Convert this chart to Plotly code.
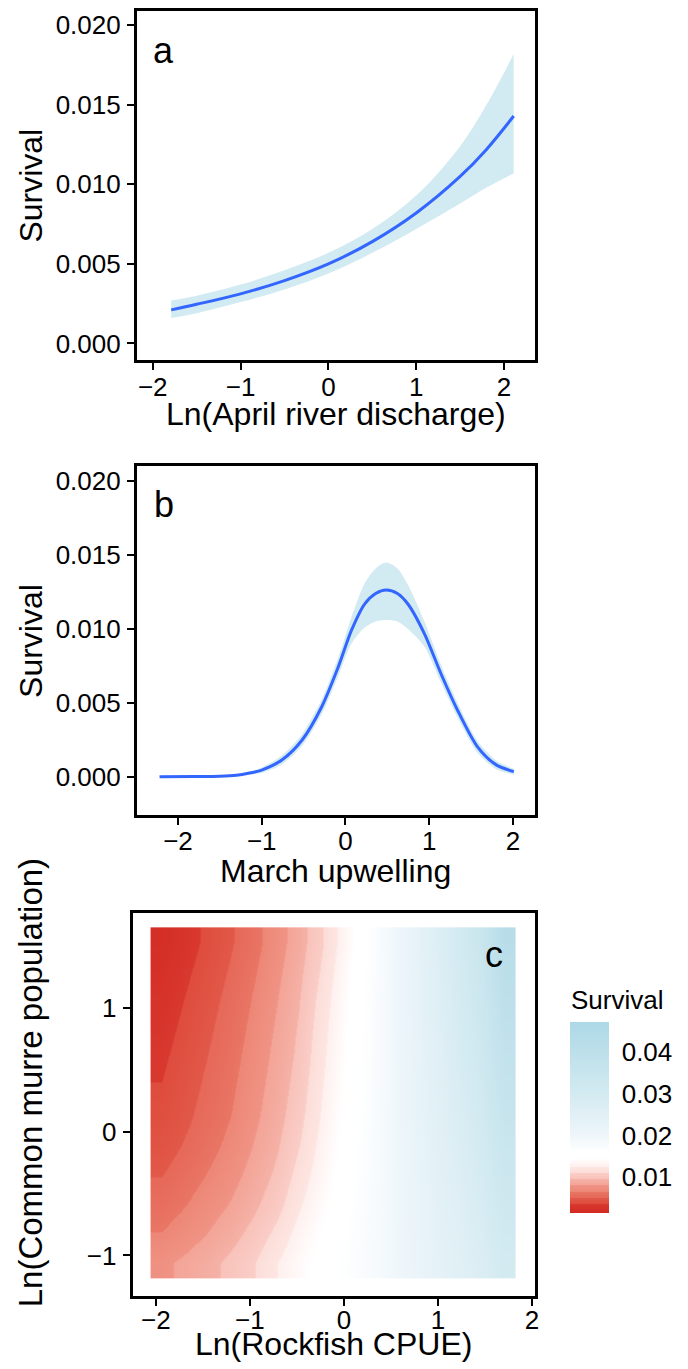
import plotly.graph_objects as go

# page body has an 8px margin: lay the figure out in page pixels and shift
OFF = 8
FW, FH = 680, 1361

# ---------------- Panel a: Ln(April river discharge) ----------------
a_x = [-1.79, -1.5, -1.0, -0.5, 0.0, 0.5, 1.0, 1.5, 1.8, 2.11]
a_fit = [0.00211, 0.00246, 0.00312, 0.00395, 0.0050, 0.0064, 0.0082, 0.0105, 0.0122, 0.0143]
a_lo = [0.0016, 0.0019, 0.0026, 0.0034, 0.0044, 0.0057, 0.0072, 0.0088, 0.0098, 0.0107]
a_hi = [0.0027, 0.0030, 0.0037, 0.0046, 0.0057, 0.0072, 0.0093, 0.0124, 0.0150, 0.0182]

# ---------------- Panel b: March upwelling ----------------
b_x = [-2.22, -1.8, -1.5, -1.3, -1.16, -1.0, -0.76, -0.52, -0.285, -0.087, 0.071, 0.23, 0.36,
       0.487, 0.62, 0.745, 0.943, 1.14, 1.338, 1.576, 1.8, 2.01]
b_fit = [0.0, 0.00001, 0.00003, 0.00010, 0.00023, 0.00045, 0.00113, 0.00247, 0.00472, 0.00742,
         0.0099, 0.0117, 0.0124, 0.01264, 0.0124, 0.01169, 0.00967, 0.00697, 0.0045, 0.00202,
         0.0008, 0.00034]
b_lo = [0.0, 0.0, 0.0, 0.00004, 0.00013, 0.00027, 0.00083, 0.00207, 0.00422, 0.00680,
        0.0090, 0.0101, 0.0105, 0.0106, 0.0105, 0.0100, 0.0088, 0.00637, 0.0040, 0.00162,
        0.0005, 0.00014]
b_hi = [0.0, 0.00002, 0.00006, 0.00016, 0.00033, 0.00063, 0.00143, 0.00287, 0.00522, 0.00805,
        0.0108, 0.0131, 0.0141, 0.0145, 0.0141, 0.0130, 0.0105, 0.00757, 0.0050, 0.00242,
        0.0011, 0.00054]

# ---------------- Panel c: survival surface ----------------
c_x = [-1.934, -1.691, -1.449, -1.206, -0.963, -0.720, -0.478, -0.235,
       0.008, 0.251, 0.493, 0.736, 0.979, 1.222, 1.464, 1.707]
c_y = [-1.065, -0.828, -0.592, -0.355, -0.119, 0.118, 0.355, 0.591, 0.828, 1.064, 1.301, 1.537]
c_z = [
    [0.00769, 0.00833, 0.00904, 0.00990, 0.01091, 0.01246, 0.01377, 0.01508, 0.01639, 0.01770, 0.01900, 0.02120, 0.02320, 0.02500, 0.02700, 0.03000],
    [0.00658, 0.00728, 0.00806, 0.00896, 0.01003, 0.01143, 0.01312, 0.01459, 0.01606, 0.01754, 0.01900, 0.02132, 0.02346, 0.02546, 0.02768, 0.03109],
    [0.00572, 0.00645, 0.00726, 0.00813, 0.00922, 0.01043, 0.01228, 0.01399, 0.01566, 0.01734, 0.01900, 0.02144, 0.02371, 0.02591, 0.02837, 0.03218],
    [0.00497, 0.00575, 0.00658, 0.00745, 0.00859, 0.00981, 0.01153, 0.01347, 0.01531, 0.01716, 0.01900, 0.02155, 0.02396, 0.02636, 0.02905, 0.03327],
    [0.00433, 0.00514, 0.00601, 0.00691, 0.00807, 0.00932, 0.01094, 0.01304, 0.01503, 0.01702, 0.01900, 0.02167, 0.02422, 0.02682, 0.02973, 0.03436],
    [0.00386, 0.00469, 0.00559, 0.00651, 0.00767, 0.00895, 0.01048, 0.01267, 0.01479, 0.01690, 0.01900, 0.02179, 0.02447, 0.02727, 0.03041, 0.03546],
    [0.00356, 0.00441, 0.00531, 0.00625, 0.00741, 0.00869, 0.01016, 0.01240, 0.01460, 0.01681, 0.01900, 0.02191, 0.02473, 0.02773, 0.03109, 0.03655],
    [0.00326, 0.00412, 0.00503, 0.00599, 0.00715, 0.00844, 0.00986, 0.01212, 0.01441, 0.01671, 0.01900, 0.02203, 0.02498, 0.02818, 0.03177, 0.03764],
    [0.00296, 0.00383, 0.00476, 0.00574, 0.00690, 0.00820, 0.00965, 0.01187, 0.01424, 0.01662, 0.01900, 0.02215, 0.02524, 0.02864, 0.03246, 0.03873],
    [0.00265, 0.00354, 0.00448, 0.00547, 0.00664, 0.00794, 0.00941, 0.01158, 0.01402, 0.01652, 0.01900, 0.02226, 0.02549, 0.02909, 0.03314, 0.03982],
    [0.00231, 0.00321, 0.00416, 0.00516, 0.00632, 0.00764, 0.00911, 0.01119, 0.01369, 0.01635, 0.01900, 0.02238, 0.02575, 0.02955, 0.03382, 0.04091],
    [0.00195, 0.00287, 0.00382, 0.00484, 0.00599, 0.00733, 0.00879, 0.01078, 0.01332, 0.01617, 0.01890, 0.02250, 0.02600, 0.03000, 0.03450, 0.04200],
]
cb_ticks = [0.01, 0.02, 0.03, 0.04]
cb_labels = ["0.01", "0.02", "0.03", "0.04"]
ZMIN, ZMAX = 0.00136, 0.0472

FONT = "Liberation Sans, Arial, sans-serif"
LINE_BLUE = "#3366FF"
RIBBON = "rgba(173,216,230,0.55)"


def nz(v):
    return (v - ZMIN) / (ZMAX - ZMIN)


band_edges = [ZMIN, 0.0035, 0.005, 0.0065, 0.008, 0.0095, 0.011, 0.0125]
band_cols = [(211, 42, 35), (222, 76, 61), (230, 104, 88), (237, 135, 119),
             (243, 164, 151), (248, 194, 186), (252, 221, 216), (254, 240, 238)]


def rgb(c):
    return "rgb(%d,%d,%d)" % c


def mix(c1, c2, t):
    return tuple(round(c1[i] + (c2[i] - c1[i]) * t) for i in range(3))


cscale = []
for i in range(len(band_edges) - 1):
    c0 = band_cols[i]
    c1 = mix(band_cols[i], band_cols[i + 1], 0.45)
    cscale.append([nz(band_edges[i]), rgb(c0)])
    cscale.append([nz(band_edges[i + 1]) - 1e-6, rgb(c1)])
cscale += [
    [nz(0.0125), rgb(band_cols[-1])],
    [nz(0.0145), "rgb(255,255,255)"],
    [nz(0.016), "rgb(255,255,255)"],
    [nz(0.02), "rgb(238,246,250)"],
    [nz(0.03), "rgb(211,234,241)"],
    [1.0, "rgb(173,216,230)"],
]
cscale[0][0] = 0.0


def px(x):
    return (x - OFF) / FW


def py(y):
    return 1 - (y - OFF) / FH


fig = go.Figure()

# panel a
fig.add_trace(go.Scatter(x=a_x, y=a_lo, mode="lines", line=dict(width=0, shape="spline"),
                         showlegend=False, hoverinfo="skip", xaxis="x", yaxis="y"))
fig.add_trace(go.Scatter(x=a_x, y=a_hi, mode="lines", line=dict(width=0, shape="spline"),
                         fill="tonexty", fillcolor=RIBBON, showlegend=False, hoverinfo="skip",
                         xaxis="x", yaxis="y"))
fig.add_trace(go.Scatter(x=a_x, y=a_fit, mode="lines", line=dict(color=LINE_BLUE, width=3, shape="spline"),
                         showlegend=False, xaxis="x", yaxis="y"))

# panel b
fig.add_trace(go.Scatter(x=b_x, y=b_lo, mode="lines", line=dict(width=0, shape="spline", smoothing=0.8),
                         showlegend=False, hoverinfo="skip", xaxis="x2", yaxis="y2"))
fig.add_trace(go.Scatter(x=b_x, y=b_hi, mode="lines", line=dict(width=0, shape="spline", smoothing=0.8),
                         fill="tonexty", fillcolor=RIBBON, showlegend=False, hoverinfo="skip",
                         xaxis="x2", yaxis="y2"))
fig.add_trace(go.Scatter(x=b_x, y=b_fit, mode="lines",
                         line=dict(color=LINE_BLUE, width=3, shape="spline", smoothing=0.8),
                         showlegend=False, xaxis="x2", yaxis="y2"))

# panel c
fig.add_trace(go.Heatmap(
    x=c_x, y=c_y, z=c_z, zsmooth="best", zmin=ZMIN, zmax=ZMAX, colorscale=cscale,
    xaxis="x3", yaxis="y3",
    colorbar=dict(
        x=px(573), xanchor="left", xpad=0, ypad=0,
        y=py(1117.5), yanchor="middle",
        len=191, lenmode="pixels", thickness=39, thicknessmode="pixels",
        outlinewidth=0, tickvals=cb_ticks, ticktext=cb_labels,
        ticks="outside", ticklen=8, tickcolor="rgba(255,255,255,0)", tickwidth=1,
        tickfont=dict(size=26, color="black", family=FONT),
    ),
))


def ax(**kw):
    d = dict(showline=True, linewidth=3, linecolor="black", mirror=True,
             ticks="outside", ticklen=7, tickwidth=2, tickcolor="black",
             tickfont=dict(size=26, color="black", family=FONT),
             showgrid=False, zeroline=False)
    d.update(kw)
    return d


YT = [0, 0.005, 0.01, 0.015, 0.02]
YL = ["0.000", "0.005", "0.010", "0.015", "0.020"]
XT = [-2, -1, 0, 1, 2]

fig.update_layout(
    width=FW, height=FH, margin=dict(l=0, r=0, t=0, b=0),
    paper_bgcolor="white", plot_bgcolor="white", showlegend=False,
    font=dict(family=FONT, color="black"),
    xaxis=ax(domain=[px(137.7), px(537.9)], range=[-2.18, 2.35], tickvals=XT,
             anchor="y", ticklabelstandoff=-6),
    yaxis=ax(domain=[py(359), py(9)], range=[-0.00107, 0.0209], tickvals=YT, ticktext=YL,
             anchor="x", ticklabelstandoff=1),
    xaxis2=ax(domain=[px(137.7), px(537.9)], range=[-2.49, 2.26], tickvals=XT,
              anchor="y2", ticklabelstandoff=-6),
    yaxis2=ax(domain=[py(814), py(465)], range=[-0.00258, 0.02101], tickvals=YT, ticktext=YL,
              anchor="x2", ticklabelstandoff=1),
    xaxis3=ax(domain=[px(133.3), px(537.9)], range=[-2.247, 2.03], tickvals=XT,
              anchor="y3", ticklabelstandoff=-8),
    yaxis3=ax(domain=[py(1296), py(912)], range=[-1.329, 1.774], tickvals=[-1, 0, 1],
              anchor="x3", ticklabelstandoff=1),
)

ann = []
TF = dict(size=32, color="black", family=FONT)
# x titles
ann.append(dict(text="Ln(April river discharge)", x=px(337.8), y=py(413), font=TF))
ann.append(dict(text="March upwelling", x=px(337.8), y=py(870), font=TF))
ann.append(dict(text="Ln(Rockfish CPUE)", x=px(335.6), y=py(1344), font=TF))
# y titles
ann.append(dict(text="Survival", x=px(31), y=py(184), font=TF, textangle=-90))
ann.append(dict(text="Survival", x=px(31), y=py(640), font=TF, textangle=-90))
ann.append(dict(text="Ln(Common murre population)", x=px(31), y=py(1082),
                font=dict(size=33, color="black", family=FONT), textangle=-90))
# panel letters
LF = dict(size=36, color="black", family=FONT)
ann.append(dict(text="a", x=px(164), y=py(49), font=LF))
ann.append(dict(text="b", x=px(165), y=py(503), font=LF))
ann.append(dict(text="c", x=px(497), y=py(954), font=LF))
# colorbar title
ann.append(dict(text="Survival", x=px(572), y=py(999), font=dict(size=26, color="black", family=FONT),
                xanchor="left"))

for a in ann:
    a.setdefault("xanchor", "center")
    a.setdefault("yanchor", "middle")
    a.update(xref="paper", yref="paper", showarrow=False)
fig.update_layout(annotations=ann)

fig.write_html("out.html")
